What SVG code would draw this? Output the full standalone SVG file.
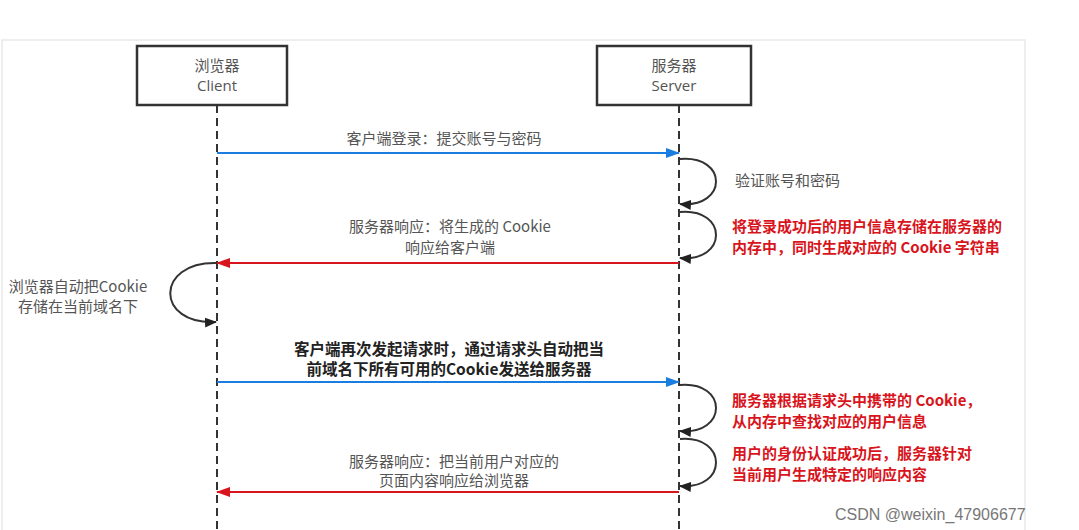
<svg xmlns="http://www.w3.org/2000/svg" width="1079" height="530" viewBox="0 0 1079 530">
<style>
text{font-family:"Noto Sans CJK SC","Liberation Sans",sans-serif;font-size:15px}
.g{fill:#555}
.r{fill:#d8141c;font-weight:bold;font-size:15px}
.b{fill:#222;font-weight:bold;font-size:15.5px}
.box{fill:#fff;stroke:#333;stroke-width:2.5}
.life{stroke:#333;stroke-width:2;stroke-dasharray:8,5;fill:none}
.loop{fill:none;stroke:#333;stroke-width:2;marker-end:url(#k)}
</style>
<defs>
<marker id="bl" markerWidth="14" markerHeight="10" refX="13" refY="5" orient="auto" markerUnits="userSpaceOnUse"><path d="M0,0L14,5L0,10z" fill="#1a7de0"/></marker>
<marker id="rd" markerWidth="14" markerHeight="10" refX="13" refY="5" orient="auto" markerUnits="userSpaceOnUse"><path d="M0,0L14,5L0,10z" fill="#d8141c"/></marker>
<marker id="k" markerWidth="12" markerHeight="10" refX="11" refY="5" orient="auto" markerUnits="userSpaceOnUse"><path d="M0,0L12,5L0,10z" fill="#222"/></marker>
</defs>
<rect width="1079" height="530" fill="#fff"/>
<rect x="2" y="40" width="1023" height="500" fill="none" stroke="#eee" stroke-width="2"/>
<g id="client">
<rect class="box" x="137" y="46" width="150" height="59"/>
<text class="g" x="217" y="71" text-anchor="middle">浏览器</text>
<text class="g" x="217" y="91" text-anchor="middle" style="font-family:'Open Sans','Liberation Sans',sans-serif">Client</text>
</g>
<g id="server">
<rect class="box" x="597" y="46" width="154" height="59"/>
<text class="g" x="674" y="71" text-anchor="middle">服务器</text>
<text class="g" x="674" y="91" text-anchor="middle" style="font-family:'Open Sans','Liberation Sans',sans-serif">Server</text>
</g>
<g id="connectors">
<line class="life" x1="217" y1="105" x2="217" y2="530"/>
<line class="life" x1="679" y1="105" x2="679" y2="530"/>
<line x1="217" y1="153" x2="679" y2="153" stroke="#1a7de0" stroke-width="2" marker-end="url(#bl)"/>
<line x1="679" y1="263" x2="217" y2="263" stroke="#d8141c" stroke-width="2" marker-end="url(#rd)"/>
<line x1="217" y1="382" x2="679" y2="382" stroke="#1a7de0" stroke-width="2" marker-end="url(#bl)"/>
<line x1="679" y1="492" x2="217" y2="492" stroke="#d8141c" stroke-width="2" marker-end="url(#rd)"/>
<path class="loop" d="M680,159 C728,155 728,208 680,204"/>
<path class="loop" d="M680,212 C728,208 728,262 680,258"/>
<path class="loop" d="M680,385 C728,381 728,435 680,431"/>
<path class="loop" d="M680,439 C728,435 728,490 680,486"/>
<path class="loop" d="M216,263 C155,262 155,325 216,322"/>
</g>
<g id="labels">
<text class="g" x="444" y="144" text-anchor="middle">客户端登录：提交账号与密码</text>
<text class="g" x="735" y="186">验证账号和密码</text>
<text class="g" x="450" y="232" text-anchor="middle">服务器响应：将生成的 Cookie</text>
<text class="g" x="450" y="253" text-anchor="middle">响应给客户端</text>
<text class="r" x="732" y="232">将登录成功后的用户信息存储在服务器的</text>
<text class="r" x="732" y="253">内存中，同时生成对应的 Cookie 字符串</text>
<text class="g" x="78" y="292" text-anchor="middle">浏览器自动把Cookie</text>
<text class="g" x="78" y="312" text-anchor="middle">存储在当前域名下</text>
<text class="b" x="449" y="355" text-anchor="middle">客户端再次发起请求时，通过请求头自动把当</text>
<text class="b" x="449" y="375" text-anchor="middle">前域名下所有可用的Cookie发送给服务器</text>
<text class="r" x="732" y="406">服务器根据请求头中携带的 Cookie，</text>
<text class="r" x="732" y="427">从内存中查找对应的用户信息</text>
<text class="r" x="732" y="459">用户的身份认证成功后，服务器针对</text>
<text class="r" x="732" y="480">当前用户生成特定的响应内容</text>
<text class="g" x="454" y="467" text-anchor="middle">服务器响应：把当前用户对应的</text>
<text class="g" x="454" y="486" text-anchor="middle">页面内容响应给浏览器</text>
<text x="835" y="520" fill="#777" style="font-family:'Liberation Sans',sans-serif;font-size:16px">CSDN @weixin_47906677</text>
</g>
</svg>
